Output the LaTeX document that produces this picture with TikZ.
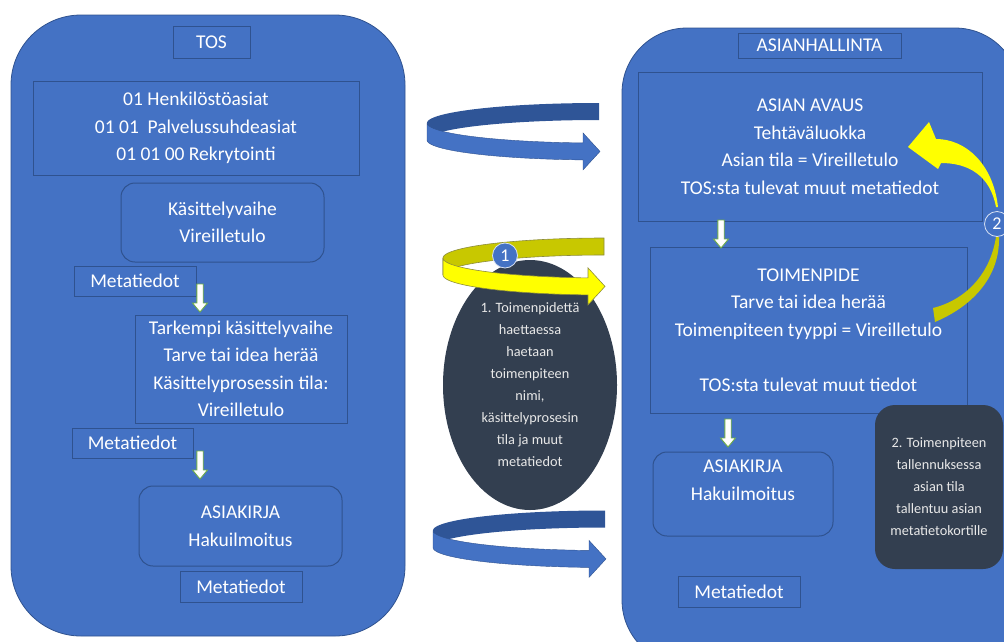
\documentclass[tikz,border=0pt]{standalone}
\usepackage{fontspec}
\setmainfont{Carlito}
\usetikzlibrary{shapes.geometric}

\definecolor{panelblue}{HTML}{4472C4}
\definecolor{edgeblue}{HTML}{2F528F}
\definecolor{backblue}{HTML}{2F5597}
\definecolor{slate}{HTML}{333F50}
\definecolor{notegrey}{HTML}{E8E8E8}
\definecolor{brightyellow}{HTML}{FFFF00}
\definecolor{oliveyellow}{HTML}{C8C800}
\definecolor{yellowedge}{HTML}{8C8C3C}
\definecolor{arrowgreen}{HTML}{70AD47}

\tikzset{
  panel/.style={draw=edgeblue, line width=0.8pt, fill=panelblue},
  box/.style={draw=edgeblue, line width=1pt, fill=panelblue, text=white,
    align=center, inner sep=0pt, font=\fontsize{19.5}{27.5}\selectfont},
  softbox/.style={box, rounded corners=14pt},
  darknote/.style={fill=slate, text=notegrey, align=center, inner sep=0pt,
    font=\fontsize{14.3}{22}\selectfont},
  badge/.style={circle, fill=panelblue, draw=white!80!panelblue, line width=0.8pt,
    text=white, minimum size=25pt, inner sep=0pt, font=\fontsize{18}{20}\selectfont},
  blueback/.style={fill=backblue},
  bluefront/.style={fill=panelblue, draw=edgeblue, line width=0.4pt},
  yellowback/.style={fill=oliveyellow, draw=yellowedge, line width=0.6pt},
  yellowfront/.style={fill=brightyellow, draw=yellowedge, line width=0.6pt},
  downarrow/.pic={
    \filldraw[draw=arrowgreen, fill=white, line width=0.9pt]
      (-3.2,0) -- (-3.2,19) -- (-7.5,19) -- (0,28) -- (7.5,19) -- (3.2,19) -- (3.2,0) -- cycle;
  },
}

% A ribbon bent round an ellipse, ending in an arrow head on the right.
% #1 cx, #2 cy, #3 rx, #4 ry, #5 style of the back half, #6 style of the front half
\newcommand{\ribbonarrow}[6]{%
  \pgfmathsetmacro\tend{360-acos(-16/#3)}%
  \pgfmathsetmacro\yend{#2-#4*sin(\tend)}%
  \path[#5] plot[domain=90:180, samples=40, variable=\t] ({#1+#3*cos(\t)},{#2-#4*sin(\t)-8.5})
    -- plot[domain=180:90, samples=40, variable=\t] ({#1+#3*cos(\t)},{#2-#4*sin(\t)+8.5}) -- cycle;
  \path[#6] plot[domain=180:\tend, samples=40, variable=\t] ({#1+#3*cos(\t)},{#2-#4*sin(\t)-8.5})
    -- ({#1-16},{\yend-18.5}) -- ({#1+1},{\yend}) -- ({#1-16},{\yend+18.5})
    -- plot[domain=\tend:180, samples=40, variable=\t] ({#1+#3*cos(\t)},{#2-#4*sin(\t)+8.5}) -- cycle;
}

\begin{document}
\begin{tikzpicture}[x=1pt, y=-1pt]
  \path[use as bounding box] (0,0) rectangle (1004,641);
  \clip (0,0) rectangle (1004,641);

  % ---------- TOS panel ----------
  \node[panel, rounded corners=70pt, minimum width=394pt, minimum height=621pt] (tospanel) at (208,325.5) {};
  \node[box, minimum width=77pt, minimum height=32pt] (tos) at (211.5,42) {TOS};
  \node[box, minimum width=326pt, minimum height=94pt] (classes) at (196,128)
    {01 Henkilöstöasiat\\01 01\ \ Palvelussuhdeasiat\\01 01 00 Rekrytointi};
  \node[softbox, minimum width=203pt, minimum height=79pt] (phase) at (222.5,222.5)
    {Käsittelyvaihe\\Vireilletulo};
  \node[box, minimum width=122pt, minimum height=30pt] (metaA) at (135,281) {Metatiedot};
  \node[box, minimum width=212pt, minimum height=108pt] (detail) at (241,369)
    {Tarkempi käsittelyvaihe\\Tarve tai idea herää\\Käsittelyprosessin tila:\\Vireilletulo};
  \node[box, minimum width=121pt, minimum height=30pt] (metaB) at (132.5,443) {Metatiedot};
  \node[softbox, minimum width=203pt, minimum height=80pt] (docL) at (240.5,526)
    {ASIAKIRJA\\Hakuilmoitus};
  \node[box, minimum width=122pt, minimum height=31pt] (metaC) at (241,586.5) {Metatiedot};
  \pic (downA) at (200,284) {downarrow};
  \pic (downB) at (200,451) {downarrow};

  % ---------- ASIANHALLINTA panel ----------
  \node[panel, rounded corners=65pt, minimum width=398pt, minimum height=637pt] (ahpanel) at (821,346.5) {};
  \node[box, minimum width=163pt, minimum height=25pt] (ah) at (819.5,45.5) {ASIANHALLINTA};
  \node[box, minimum width=344pt, minimum height=149pt] (opening) at (810,146.5)
    {ASIAN AVAUS\\Tehtäväluokka\\Asian tila = Vireilletulo\\TOS:sta tulevat muut metatiedot};
  \node[box, minimum width=317pt, minimum height=166pt] (action) at (808.5,330)
    {TOIMENPIDE\\Tarve tai idea herää\\Toimenpiteen tyyppi = Vireilletulo\\[27.5pt]TOS:sta tulevat muut tiedot};
  \node[softbox, minimum width=180pt, minimum height=84pt] (docR) at (743,494)
    {ASIAKIRJA\\Hakuilmoitus\\\mbox{}};
  \node[box, minimum width=122pt, minimum height=31pt] (metaR) at (739,591.5) {Metatiedot};
  \pic (downC) at (721,220) {downarrow};
  \pic (downD) at (728,419) {downarrow};

  % note on saving the action
  \node[darknote, rounded corners=20pt, minimum width=128pt, minimum height=164pt] (note2) at (939,487)
    {2. Toimenpiteen\\tallennuksessa\\asian tila\\tallentuu asian\\metatietokortille};

  % curved arrow from the action back to the case opening
  \path[fill=oliveyellow] (999,237) .. controls (1000,275) and (975,305) .. (935,322)
    -- (933,308) .. controls (965,300) and (990,275) .. (996,237) -- cycle;
  \path[fill=brightyellow] (908,147) -- (929,122) -- (936,139)
    .. controls (965,139) and (993,163) .. (998,207)
    -- (996,207) .. controls (990,175) and (968,163) .. (941,163)
    -- (938,169) -- cycle;
  \node[badge] (badge2) at (997,224) {2};

  % ---------- middle ----------
  \node[ellipse, fill=slate, text=notegrey, align=center, inner sep=0pt,
    minimum width=174pt, minimum height=250pt, font=\fontsize{14.3}{22}\selectfont] (note1) at (530,385)
    {1. Toimenpidettä\\haettaessa\\haetaan\\toimenpiteen\\nimi,\\käsittelyprosesin\\tila ja muut\\metatiedot};

  \ribbonarrow{599}{131.5}{172}{20}{blueback}{bluefront}
  \ribbonarrow{604}{266.5}{161}{20}{yellowback}{yellowfront}
  \ribbonarrow{605}{539}{172}{20}{blueback}{bluefront}
  \node[badge] (badge1) at (505,255.5) {1};
\end{tikzpicture}
\end{document}
